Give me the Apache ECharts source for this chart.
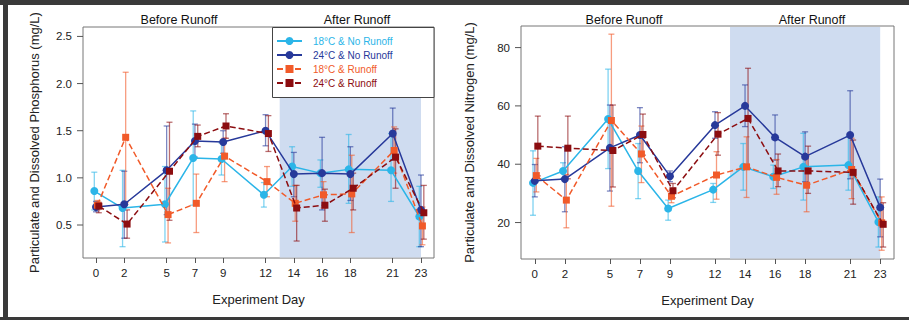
<!DOCTYPE html>
<html>
<head>
<meta charset="utf-8">
<script src="https://cdn.jsdelivr.net/npm/echarts@6/dist/echarts.min.js"></script>
<style>
html,body{margin:0;padding:0;background:#fff;}
#chart{width:909px;height:320px;}
</style>
</head>
<body>
<div id="chart"></div>
<script>
// ---- data ----
const days = [0, 2, 5, 7, 9, 12, 14, 16, 18, 21, 23];
const runoffStart = 13;
const runoffEnd = 23;
const seriesNames = ['18°C & No Runoff', '24°C & No Runoff', '18°C & Runoff', '24°C & Runoff'];
const pTicks = [0.5, 1.0, 1.5, 2.0, 2.5];
const nTicks = [20, 40, 60, 80];

// Phosphorus (mg/L)
const p18No   = [0.86, 0.68, 0.72, 1.21, 1.20, 0.82, 1.12, 1.05, 1.09, 1.08, 0.59];
const p18NoLo = [0.66, 0.27, 0.32, 0.71, 1.03, 0.69, 0.91, 0.90, 0.73, 0.75, 0.27];
const p18NoHi = [1.06, 1.08, 1.12, 1.71, 1.37, 0.95, 1.33, 1.19, 1.46, 1.47, 0.91];
const p24No   = [0.69, 0.72, 1.08, 1.39, 1.38, 1.50, 1.04, 1.05, 1.04, 1.47, 0.66];
const p24NoLo = [0.64, 0.36, 0.61, 1.22, 1.26, 1.34, 0.80, 0.66, 0.76, 1.19, 0.27];
const p24NoHi = [0.75, 1.07, 1.55, 1.57, 1.50, 1.67, 1.27, 1.43, 1.33, 1.74, 1.03];
const p18R    = [0.71, 1.43, 0.61, 0.73, 1.23, 0.96, 0.73, 0.82, 0.83, 1.29, 0.49];
const p18RLo  = [0.66, 0.74, 0.31, 0.42, 0.96, 0.80, 0.54, 0.68, 0.42, 1.05, 0.29];
const p18RHi  = [0.76, 2.12, 0.89, 1.04, 1.42, 1.12, 0.92, 0.96, 1.24, 1.54, 0.69];
const p24R    = [0.70, 0.51, 1.07, 1.44, 1.55, 1.47, 0.68, 0.71, 0.89, 1.22, 0.63];
const p24RLo  = [0.63, 0.36, 0.55, 1.33, 1.42, 1.28, 0.33, 0.54, 0.66, 0.89, 0.35];
const p24RHi  = [0.74, 0.66, 1.59, 1.56, 1.68, 1.66, 0.92, 0.88, 1.05, 1.52, 0.92];

// Nitrogen (mg/L)
const n18No   = [33.6, 37.7, 55.5, 37.7, 24.8, 31.3, 39.1, 35.7, 39.1, 39.7, 20.2];
const n18NoLo = [22.5, 35.1, 38.5, 28.2, 20.8, 26.9, 31.1, 31.7, 27.7, 31.1, 11.6];
const n18NoHi = [44.6, 40.5, 72.6, 47.1, 27.7, 33.4, 47.1, 39.7, 50.6, 49.4, 28.8];
const n24No   = [34.3, 34.9, 45.6, 50.0, 35.9, 53.4, 60.0, 49.2, 42.6, 50.0, 25.2];
const n24NoLo = [28.8, 23.7, 30.8, 40.5, 34.0, 48.9, 52.9, 41.4, 34.0, 35.0, 15.1];
const n24NoHi = [39.9, 46.0, 60.3, 59.4, 37.7, 58.0, 67.2, 56.9, 51.1, 65.2, 34.9];
const n18R    = [36.1, 27.7, 55.0, 43.5, 29.0, 36.3, 39.1, 35.5, 32.8, 38.2, 19.9];
const n18RLo  = [30.5, 18.2, 25.6, 33.7, 26.8, 28.0, 28.6, 29.7, 23.7, 28.2, 10.5];
const n18RHi  = [42.0, 36.5, 84.6, 53.1, 31.1, 44.3, 49.4, 41.6, 42.8, 48.9, 28.8];
const n24R    = [46.2, 45.5, 44.7, 50.2, 30.9, 50.3, 55.7, 37.7, 37.7, 37.2, 19.4];
const n24RLo  = [36.0, 35.0, 32.2, 43.1, 28.5, 43.1, 38.6, 32.3, 30.0, 26.3, 11.6];
const n24RHi  = [56.5, 56.5, 60.3, 57.2, 33.4, 57.7, 72.9, 43.5, 46.2, 48.3, 26.8];

// ---- styles ----
const colors = ['#2bb5e8', '#27399a', '#f15a29', '#8c0d10'];
const dashed = [false, false, true, true];
const symbols = ['circle', 'circle', 'rect', 'rect'];
const jitter = [-0.12, 0, 0.1, 0.2];
const FONT = '"Liberation Sans", Arial, Helvetica, sans-serif';

const panels = [
  { vals: [[p18No, p18NoLo, p18NoHi], [p24No, p24NoLo, p24NoHi], [p18R, p18RLo, p18RHi], [p24R, p24RLo, p24RHi]] },
  { vals: [[n18No, n18NoLo, n18NoHi], [n24No, n24NoLo, n24NoHi], [n18R, n18RLo, n18RHi], [n24R, n24RLo, n24RHi]] }
];
const yTickSets = [pTicks, nTicks];

const series = [];
panels.forEach((panel, pi) => {
  // runoff shading
  series.push({
    type: 'custom', xAxisIndex: pi, yAxisIndex: pi, z: 1, silent: true,
    data: [[runoffStart, runoffEnd]],
    encode: { x: [0, 1], y: 0 },
    renderItem: function (params, api) {
      const cs = params.coordSys;
      const x0 = api.coord([api.value(0), 0])[0];
      const x1 = api.coord([api.value(1), 0])[0];
      return { type: 'rect', shape: { x: x0, y: cs.y + 1, width: x1 - x0, height: cs.height - 1.5 },
               style: { fill: '#cfdcf0' } };
    }
  });
  // y-axis tick marks (outside, R style) drawn through the axis scale
  series.push({
    type: 'custom', xAxisIndex: pi, yAxisIndex: pi, z: 1, silent: true,
    data: yTickSets[pi].map(t => [t]),
    encode: { y: 0 },
    renderItem: function (params, api) {
      const cs = params.coordSys;
      const y = api.coord([0, api.value(0)])[1];
      return { type: 'line', shape: { x1: cs.x - 6, y1: y, x2: cs.x, y2: y },
               style: { stroke: '#555', lineWidth: 1 } };
    }
  });
  panel.vals.forEach((v, si) => {
    const mean = v[0], lo = v[1], hi = v[2];
    series.push({
      type: 'custom', xAxisIndex: pi, yAxisIndex: pi, z: 2 + si, silent: true,
      data: days.map((d, i) => [d + jitter[si], lo[i], hi[i]]),
      encode: { x: 0, y: [1, 2] },
      renderItem: (function (col) {
        return function (params, api) {
          const x = api.value(0);
          const a = api.coord([x, api.value(1)]);
          const b = api.coord([x, api.value(2)]);
          const w = 3;
          const st = { stroke: col, lineWidth: 1.3, opacity: 0.6 };
          return { type: 'group', children: [
            { type: 'line', shape: { x1: a[0], y1: a[1], x2: b[0], y2: b[1] }, style: st },
            { type: 'line', shape: { x1: a[0] - w, y1: a[1], x2: a[0] + w, y2: a[1] }, style: st },
            { type: 'line', shape: { x1: b[0] - w, y1: b[1], x2: b[0] + w, y2: b[1] }, style: st }
          ]};
        };
      })(colors[si])
    });
    series.push({
      type: 'line', name: seriesNames[si], xAxisIndex: pi, yAxisIndex: pi, z: 10 + si,
      data: days.map((d, i) => [d + jitter[si], mean[i]]),
      symbol: symbols[si], symbolSize: symbols[si] === 'circle' ? 8 : 7,
      showSymbol: true,
      lineStyle: { color: colors[si], width: 1.5, type: dashed[si] ? [6, 3] : 'solid' },
      itemStyle: { color: colors[si] },
      emphasis: { disabled: true }
    });
  });
});

function xAx(gi) {
  return {
    gridIndex: gi, type: 'value', min: -0.92, max: 23.92,
    axisLine: { show: false }, splitLine: { show: false },
    axisTick: { show: true, customValues: days, length: 5, lineStyle: { color: '#555' } },
    axisLabel: { customValues: days, color: '#222', fontSize: 11.5, margin: 9, fontFamily: FONT },
    name: 'Experiment Day', nameLocation: 'middle', nameGap: 35,
    nameTextStyle: { fontSize: 13, color: '#222', fontFamily: FONT }
  };
}
function yAx(gi, min, max, ticks, fmt, name, gap) {
  return {
    gridIndex: gi, type: 'value', min: min, max: max,
    axisLine: { show: false }, splitLine: { show: false },
    axisTick: { show: false },
    axisLabel: { customValues: ticks, color: '#222', fontSize: 11.5, margin: 11, fontFamily: FONT, formatter: fmt },
    name: name, nameLocation: 'middle', nameGap: gap,
    nameTextStyle: { fontSize: 13, color: '#222', fontFamily: FONT }
  };
}

const option = {
  animation: false,
  textStyle: { fontFamily: FONT },
  grid: [
    { left: 83, top: 27, width: 351, height: 231, show: true, borderColor: '#777', borderWidth: 1, backgroundColor: 'transparent' },
    { left: 521, top: 26, width: 373, height: 233, show: true, borderColor: '#777', borderWidth: 1, backgroundColor: 'transparent' }
  ],
  xAxis: [xAx(0), xAx(1)],
  yAxis: [
    yAx(0, 0.15, 2.6, pTicks, v => v.toFixed(1), 'Particulate and Dissolved Phosphorus (mg/L)', 42),
    yAx(1, 7.5, 87.4, nTicks, v => String(v), 'Particulate and Dissolved Nitrogen (mg/L)', 45)
  ],
  legend: {
    orient: 'vertical', left: 273, top: 27, z: 100,
    backgroundColor: 'transparent', borderWidth: 0,
    padding: [8, 4, 8, 3], itemWidth: 25, itemHeight: 10, itemGap: 2,
    selectedMode: false,
    textStyle: { fontSize: 10, lineHeight: 12, padding: [0, 0, 0, 6], fontFamily: FONT },
    data: seriesNames.map((n, i) => ({ name: n, textStyle: { color: colors[i] } }))
  },
  graphic: [
    { type: 'rect', z: 90, shape: { x: 272.5, y: 27.5, width: 161.5, height: 70 }, style: { fill: '#fff', stroke: '#444', lineWidth: 1 }, silent: true },
    { type: 'text', x: 179, y: 20, style: { text: 'Before Runoff', fontSize: 12.5, fill: '#111', align: 'center', verticalAlign: 'middle', fontFamily: FONT } },
    { type: 'text', x: 357, y: 20, style: { text: 'After Runoff', fontSize: 12.5, fill: '#111', align: 'center', verticalAlign: 'middle', fontFamily: FONT } },
    { type: 'text', x: 624, y: 20, style: { text: 'Before Runoff', fontSize: 12.5, fill: '#111', align: 'center', verticalAlign: 'middle', fontFamily: FONT } },
    { type: 'text', x: 812, y: 20, style: { text: 'After Runoff', fontSize: 12.5, fill: '#111', align: 'center', verticalAlign: 'middle', fontFamily: FONT } },
    { type: 'rect', shape: { x: 0, y: 0, width: 909, height: 5 }, style: { fill: '#3a3a3a' }, silent: true },
    { type: 'rect', shape: { x: 3, y: 0, width: 5, height: 320 }, style: { fill: '#3a3a3a' }, silent: true },
    { type: 'rect', shape: { x: 0, y: 317, width: 909, height: 3 }, style: { fill: '#3a3a3a' }, silent: true }
  ],
  series: series
};

const chart = echarts.init(document.getElementById('chart'), null, { renderer: 'svg' });
chart.setOption(option);
</script>
</body>
</html>
